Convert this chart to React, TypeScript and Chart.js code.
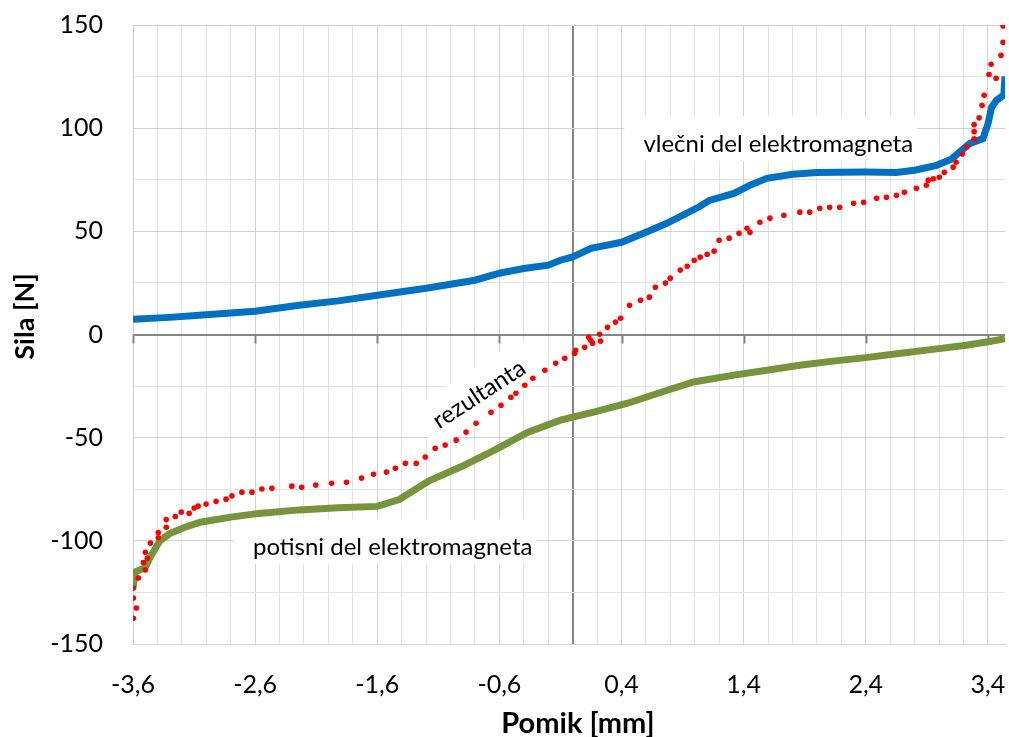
import { useEffect, useRef } from 'react';
import { Chart, registerables } from 'chart.js';

Chart.register(...registerables);

// ---------- axis ranges / ticks ----------
const xMin = -3.6;
const xMax = 3.54;
const xMinorStep = 0.2;
const xMinorCount = 35; // -3.6 .. 3.4
const xMajorTicks = [-3.6, -2.6, -1.6, -0.6, 0.4, 1.4, 2.4, 3.4];
const yMin = -150;
const yMax = 150;
const yStep = 25;

// ---------- series: vlečni del elektromagneta (blue) ----------
const vlecniX = [-3.6, -3.3, -3.06, -2.6, -2.24, -1.92, -1.6, -1.2, -0.8, -0.6, -0.4, -0.2, -0.1, 0, 0.15, 0.4, 0.6, 0.775, 1.04, 1.12, 1.32, 1.45, 1.59, 1.8, 2.0, 2.4, 2.65, 2.8, 2.98, 3.1, 3.14, 3.25, 3.36, 3.4, 3.43, 3.47, 3.53, 3.54];
const vlecniY = [7.4, 8.3, 9.3, 11.3, 14.2, 16.3, 19, 22.4, 26.3, 29.7, 32, 33.6, 36, 37.6, 41.8, 44.7, 49.6, 54, 62, 65, 68.4, 72.3, 75.7, 77.7, 78.5, 78.7, 78.5, 79.6, 82, 85, 87, 92.5, 95, 102, 110, 113.5, 116, 125];

// ---------- series: potisni del elektromagneta (green) ----------
const potisniX = [-3.6, -3.58, -3.5, -3.45, -3.38, -3.3, -3.18, -3.05, -2.8, -2.57, -2.24, -1.92, -1.6, -1.42, -1.18, -0.91, -0.64, -0.37, -0.1, 0, 0.18, 0.45, 0.775, 0.99, 1.32, 1.59, 1.86, 2.13, 2.4, 2.67, 2.95, 3.22, 3.39, 3.54];
const potisniY = [-123, -115, -113, -107, -100, -96.5, -93.5, -91, -88.5, -86.7, -85, -84, -83.3, -80, -71, -64, -56, -47.5, -41.5, -40, -37.5, -33.3, -27, -23, -19.7, -17.3, -14.9, -12.9, -11.2, -9.2, -7.2, -5.2, -3.6, -2];

// ---------- series: rezultanta (red dots) ----------
const rezultantaX = [-3.597, -3.573, -3.597, -3.597, -3.556, -3.499, -3.515, -3.483, -3.499, -3.458, -3.393, -3.393, -3.328, -3.328, -3.254, -3.205, -3.14, -3.099, -3.067, -3.002, -2.92, -2.838, -2.79, -2.708, -2.626, -2.545, -2.463, -2.3, -2.219, -2.104, -1.974, -1.852, -1.729, -1.631, -1.525, -1.452, -1.37, -1.281, -1.207, -1.126, -1.044, -0.954, -0.873, -0.791, -0.669, -0.587, -0.506, -0.465, -0.392, -0.326, -0.228, -0.139, -0.065, 0.016, 0.025, 0.098, 0.131, 0.147, 0.163, 0.22, 0.228, 0.285, 0.35, 0.392, 0.465, 0.555, 0.628, 0.677, 0.759, 0.799, 0.881, 0.938, 0.995, 1.044, 1.101, 1.158, 1.199, 1.281, 1.362, 1.427, 1.452, 1.533, 1.615, 1.729, 1.86, 1.941, 2.023, 2.104, 2.186, 2.3, 2.382, 2.488, 2.569, 2.651, 2.716, 2.814, 2.896, 2.912, 2.953, 3.002, 3.043, 3.116, 3.14, 3.19, 3.23, 3.287, 3.287, 3.287, 3.328, 3.352, 3.369, 3.409, 3.426, 3.467, 3.507, 3.524, 3.524];
const rezultantaY = [-137.5, -132.6, -127.7, -122.9, -118, -114.1, -110.5, -108.5, -105.5, -101.1, -98.5, -96, -93.4, -89.7, -88.2, -86.1, -86.6, -84.1, -83.2, -82.2, -80.8, -79.8, -78.2, -76.4, -76.4, -74.9, -74.5, -73.5, -74, -73, -72.1, -71.6, -69.6, -67.7, -66.7, -64.8, -62.4, -62.4, -59.4, -55.1, -53.6, -51.2, -47.3, -43, -37.7, -34.3, -30.4, -28.5, -24.6, -21.2, -17.3, -13.9, -11.5, -9.1, -7.6, -6.2, -1.3, -2.8, -4.2, 0.1, -3.2, 3.5, 6, 7.9, 14.2, 16.6, 18.1, 22.9, 24.9, 27.3, 31.2, 33.1, 36, 37.5, 38.9, 40.4, 45.7, 46.7, 49.1, 51.5, 49.5, 54.4, 56.4, 57.8, 59.3, 59.3, 61.2, 61.7, 61.7, 63.6, 64.1, 66, 66.5, 67.5, 68.9, 70.9, 72.3, 74.8, 75.5, 76.2, 78.6, 81.1, 83.5, 87.5, 91, 94.9, 98.3, 101.7, 105, 111.1, 115.9, 126, 131, 124.2, 135.3, 141.6, 149.5];

// ---------- text ----------
const xTitle = 'Pomik [mm]';
const yTitle = 'Sila [N]';
const labelTexts = ['vlečni del elektromagneta', 'potisni del elektromagneta', 'rezultanta'];
const labelX = [0.579, -2.618, -0.767];
const labelY = [88.5, -106.9, -28.9];
const labelAngle = [0, 0, -33];

const FONT = 'Lato, "Open Sans", sans-serif';

function toPoints(xs: number[], ys: number[]) {
  return xs.map((x, i) => ({ x, y: ys[i] }));
}

const overlayPlugin = {
  id: 'overlay',
  beforeDatasetsDraw(chart: any) {
    const { ctx, scales } = chart;
    const xs = scales.x;
    const ys = scales.y;
    const y0 = ys.getPixelForValue(0);
    ctx.save();
    // tick marks on the zero line
    ctx.strokeStyle = '#868686';
    ctx.lineWidth = 2;
    for (const v of xMajorTicks) {
      const px = Math.round(xs.getPixelForValue(v)) + 0.5;
      ctx.beginPath();
      ctx.moveTo(px, y0);
      ctx.lineTo(px, y0 + 9);
      ctx.stroke();
    }
    // annotation labels with white boxes
    ctx.font = `24px ${FONT}`;
    for (let i = 0; i < labelTexts.length; i++) {
      const t = labelTexts[i];
      const px = xs.getPixelForValue(labelX[i]);
      const py = ys.getPixelForValue(labelY[i]);
      const w = ctx.measureText(t).width;
      ctx.save();
      ctx.translate(px, py);
      if (labelAngle[i] !== 0) {
        ctx.rotate((labelAngle[i] * Math.PI) / 180);
        ctx.fillStyle = '#ffffff';
        ctx.fillRect(-w / 2 - 14, -24, w + 28, 46);
        ctx.fillStyle = '#000000';
        ctx.textAlign = 'center';
        ctx.textBaseline = 'alphabetic';
        ctx.fillText(t, 0, 8);
      } else {
        ctx.fillStyle = '#ffffff';
        ctx.fillRect(-19, -36, w + 23, 45);
        ctx.fillStyle = '#000000';
        ctx.textAlign = 'left';
        ctx.textBaseline = 'alphabetic';
        ctx.fillText(t, 0, 0);
      }
      ctx.restore();
    }
    ctx.restore();
  },
  afterDraw(chart: any) {
    const { ctx, chartArea } = chart;
    ctx.save();
    ctx.fillStyle = '#000000';
    ctx.textAlign = 'center';
    ctx.textBaseline = 'middle';
    ctx.font = `bold 29px ${FONT}`;
    ctx.fillText(xTitle, (chartArea.left + chartArea.right) / 2 + 9, 724);
    ctx.font = `bold 27px ${FONT}`;
    ctx.translate(25, (chartArea.top + chartArea.bottom) / 2 - 18);
    ctx.rotate(-Math.PI / 2);
    ctx.fillText(yTitle, 0, 0);
    ctx.restore();
  },
};

export default function App() {
  const ref = useRef<HTMLCanvasElement>(null);
  useEffect(() => {
    document.body.style.margin = '0';
    Chart.defaults.font.family = FONT;
    const chart = new Chart(ref.current as HTMLCanvasElement, {
      type: 'scatter',
      data: {
        datasets: [
          {
            label: labelTexts[2],
            data: toPoints(rezultantaX, rezultantaY),
            backgroundColor: '#ff0000',
            borderColor: '#ff0000',
            borderWidth: 0,
            pointRadius: 2.8,
            showLine: false,
          },
          {
            label: labelTexts[0],
            data: toPoints(vlecniX, vlecniY),
            borderColor: '#0070c0',
            backgroundColor: '#0070c0',
            borderWidth: 7,
            pointRadius: 0,
            showLine: true,
            tension: 0,
          },
          {
            label: labelTexts[1],
            data: toPoints(potisniX, potisniY),
            borderColor: '#77933c',
            backgroundColor: '#77933c',
            borderWidth: 7,
            pointRadius: 0,
            showLine: true,
            tension: 0,
          },
        ],
      },
      options: {
        responsive: true,
        maintainAspectRatio: false,
        animation: false,
        layout: { padding: { top: 25, left: 0, right: 0, bottom: 0 } },
        plugins: {
          legend: { display: false },
          tooltip: { enabled: false },
        },
        scales: {
          x: {
            type: 'linear',
            min: xMin,
            max: xMax,
            afterBuildTicks: (scale: any) => {
              const ticks = [];
              for (let k = 0; k <= xMinorCount; k++) {
                ticks.push({ value: Math.round((xMin + k * xMinorStep) * 10) / 10 });
              }
              scale.ticks = ticks;
            },
            afterFit: (scale: any) => {
              scale.height = 93;
              scale.paddingLeft = 0;
              scale.paddingRight = 0;
            },
            ticks: {
              autoSkip: false,
              maxRotation: 0,
              padding: 26,
              color: '#000000',
              font: { size: 25 },
              callback: (value: any) => {
                const v = Number(value);
                const isMajor = xMajorTicks.some((m) => Math.abs(m - v) < 1e-6);
                return isMajor ? v.toFixed(1).replace('.', ',') : '';
              },
            },
            grid: {
              drawTicks: false,
              color: (c: any) => {
                const v = c.tick ? c.tick.value : 1;
                if (Math.abs(v) < 1e-6) return '#868686';
                return xMajorTicks.some((m) => Math.abs(m - v) < 1e-6) ? '#d2d2d2' : '#e4e4e4';
              },
              lineWidth: (c: any) => (c.tick && Math.abs(c.tick.value) < 1e-6 ? 2 : 1),
            },
            border: { display: true, color: '#d9d9d9' },
          },
          y: {
            type: 'linear',
            min: yMin,
            max: yMax,
            afterFit: (scale: any) => {
              scale.width = 133;
              scale.paddingTop = 0;
              scale.paddingBottom = 0;
            },
            ticks: {
              stepSize: yStep,
              padding: 30,
              color: '#000000',
              font: { size: 25 },
              callback: (value: any) => (Number(value) % 50 === 0 ? String(value) : ''),
            },
            grid: {
              drawTicks: false,
              color: (c: any) => {
                const v = c.tick ? c.tick.value : 1;
                if (v === 0) return '#868686';
                return v % 50 === 0 ? '#d2d2d2' : '#e4e4e4';
              },
              lineWidth: (c: any) => (c.tick && c.tick.value === 0 ? 2 : 1),
            },
            border: { display: true, color: '#cccccc' },
          },
        },
      },
      plugins: [overlayPlugin],
    });
    return () => chart.destroy();
  }, []);
  return (
    <div style={{ position: 'relative', width: 1009, height: 737 }}>
      <canvas ref={ref} />
    </div>
  );
}
